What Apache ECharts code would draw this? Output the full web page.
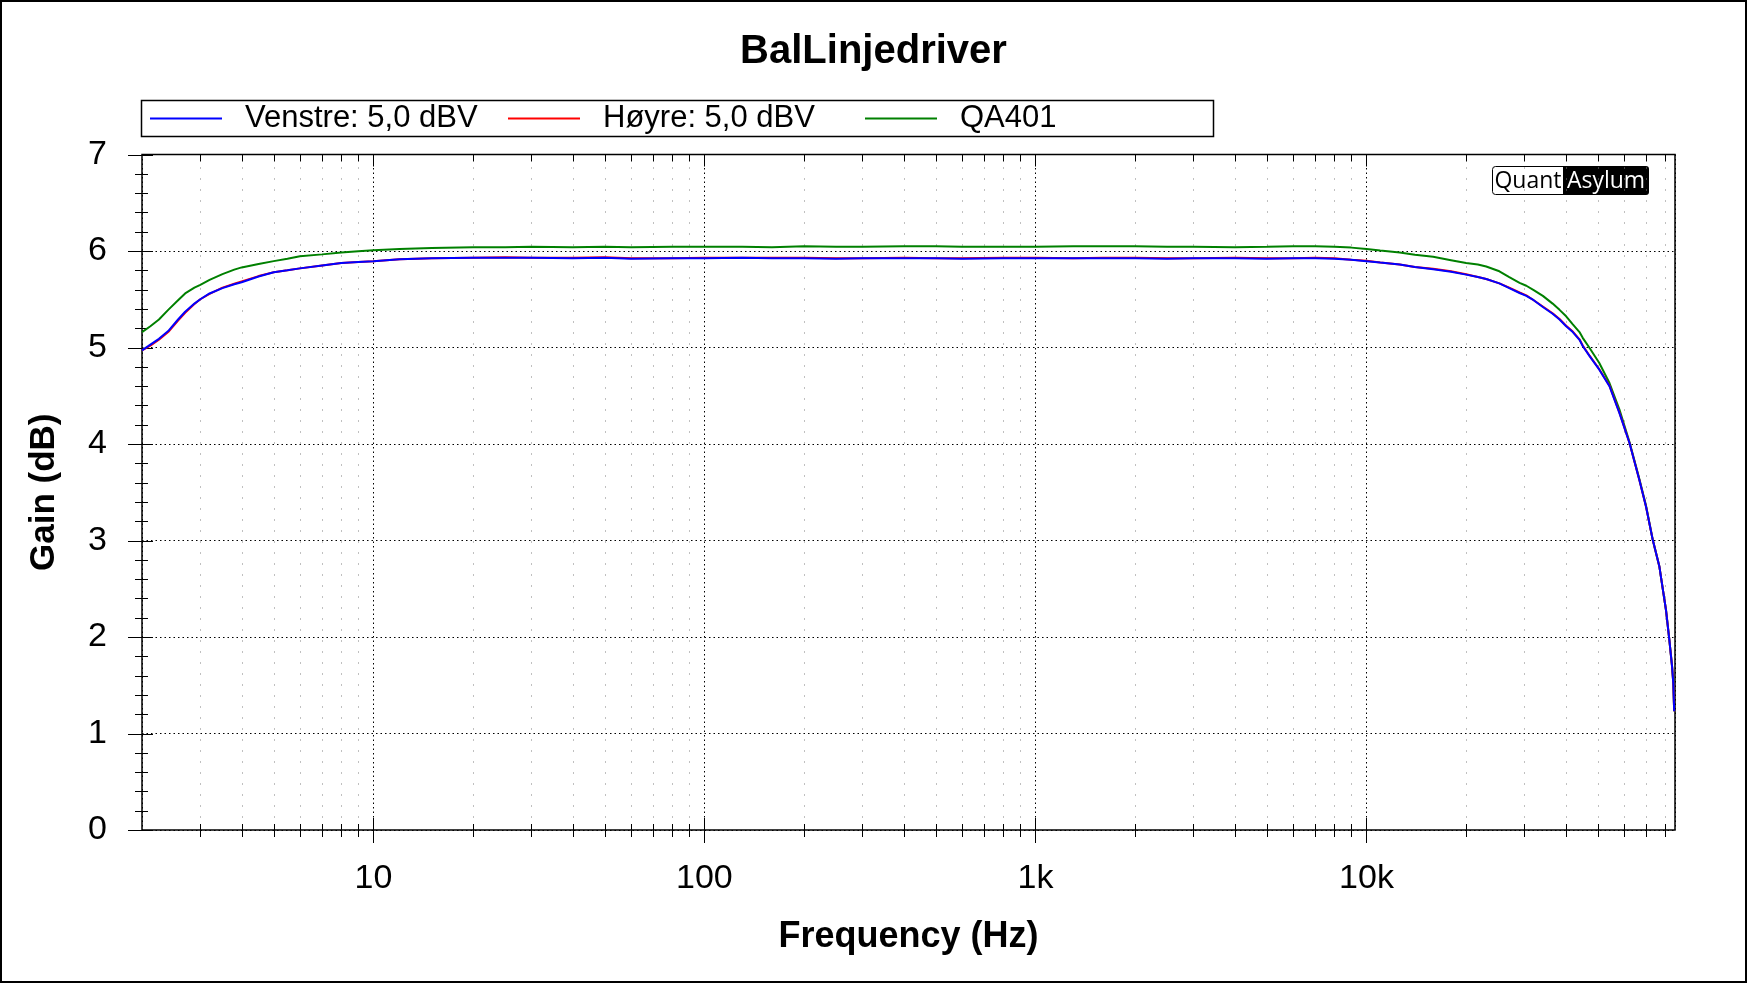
<!DOCTYPE html>
<html><head><meta charset="utf-8">
<script src="https://cdn.jsdelivr.net/npm/echarts@6/dist/echarts.min.js"></script>
<style>html,body{margin:0;padding:0;background:#fff}#c{width:1747px;height:983px}</style>
</head><body><div id="c"></div><script>
// ---- data ----
const freqHz = [2, 2.12, 2.25, 2.4, 2.57, 2.7, 2.88, 3.0, 3.2, 3.5,
  3.8, 4.0, 4.5, 5, 5.5, 6, 7, 8, 9, 10,
  12, 15, 20, 25, 30, 40, 50, 60, 80, 100,
  130, 160, 200, 250, 300, 400, 500, 600, 800, 1000,
  1300, 1600, 2000, 2500, 3000, 4000, 5000, 6000, 7000, 8000,
  9000, 10000, 11000, 12600, 14000, 15900, 18000, 20000, 21700, 23000,
  25200, 27000, 29000, 30400, 32000, 34100, 36500, 38300, 40100, 42000,
  44000, 45000, 47200, 50500, 54200, 58100, 62300, 66700, 69900, 73200,
  76700, 80300, 82200, 83800, 84500, 85000];
const gainVenstre = [4.97, 5.03, 5.09, 5.17, 5.29, 5.37, 5.455, 5.50, 5.56, 5.615,
  5.655, 5.676, 5.735, 5.78, 5.80, 5.82, 5.85, 5.876, 5.886, 5.895,
  5.915, 5.925, 5.93, 5.93, 5.93, 5.925, 5.93, 5.92, 5.925, 5.925,
  5.93, 5.925, 5.925, 5.92, 5.925, 5.925, 5.925, 5.92, 5.925, 5.925,
  5.925, 5.925, 5.925, 5.92, 5.925, 5.925, 5.92, 5.925, 5.925, 5.92,
  5.91, 5.895, 5.88, 5.86, 5.835, 5.81, 5.785, 5.755, 5.73, 5.71,
  5.665, 5.615, 5.565, 5.535, 5.49, 5.42, 5.35, 5.29, 5.22, 5.16,
  5.08, 5.015, 4.91, 4.77, 4.60, 4.32, 4.01, 3.63, 3.35, 3.01,
  2.73, 2.28, 1.97, 1.69, 1.52, 1.23];
const gainHoyre = [4.97, 5.02, 5.08, 5.16, 5.28, 5.36, 5.45, 5.50, 5.555, 5.62,
  5.66, 5.685, 5.74, 5.78, 5.80, 5.82, 5.85, 5.875, 5.885, 5.895,
  5.915, 5.925, 5.93, 5.935, 5.93, 5.93, 5.935, 5.925, 5.925, 5.93,
  5.93, 5.93, 5.93, 5.925, 5.925, 5.93, 5.925, 5.925, 5.93, 5.93,
  5.925, 5.93, 5.93, 5.925, 5.925, 5.93, 5.925, 5.925, 5.93, 5.925,
  5.91, 5.90, 5.88, 5.86, 5.835, 5.815, 5.79, 5.76, 5.73, 5.71,
  5.665, 5.62, 5.57, 5.54, 5.49, 5.425, 5.355, 5.295, 5.225, 5.165,
  5.085, 5.02, 4.915, 4.775, 4.605, 4.325, 4.01, 3.63, 3.35, 3.01,
  2.73, 2.28, 1.97, 1.69, 1.52, 1.23];
const gainQA401 = [5.16, 5.22, 5.29, 5.39, 5.49, 5.56, 5.62, 5.65, 5.70, 5.76,
  5.807, 5.83, 5.865, 5.895, 5.92, 5.945, 5.965, 5.985, 5.998, 6.008,
  6.02, 6.03, 6.04, 6.04, 6.045, 6.04, 6.045, 6.04, 6.045, 6.045,
  6.045, 6.04, 6.05, 6.045, 6.045, 6.05, 6.05, 6.045, 6.045, 6.045,
  6.05, 6.05, 6.05, 6.045, 6.045, 6.04, 6.045, 6.05, 6.05, 6.045,
  6.035, 6.02, 6.005, 5.985, 5.96, 5.94, 5.905, 5.875, 5.86, 5.84,
  5.79, 5.73, 5.67, 5.64, 5.595, 5.535, 5.455, 5.39, 5.323, 5.24,
  5.16, 5.10, 4.995, 4.84, 4.632, 4.356, 4.02, 3.64, 3.36, 3.01,
  2.73, 2.28, 1.97, 1.69, 1.52, 1.23];

const seriesNames = ['Venstre: 5,0 dBV', 'Høyre: 5,0 dBV', 'QA401'];
const xMajorTicks = [10, 100, 1000, 10000];
const xMinorTicks = [3, 4, 5, 6, 7, 8, 9,
  20, 30, 40, 50, 60, 70, 80, 90,
  200, 300, 400, 500, 600, 700, 800, 900,
  2000, 3000, 4000, 5000, 6000, 7000, 8000, 9000,
  20000, 30000, 40000, 50000, 60000, 70000, 80000];
const yMajorTicks = [0, 1, 2, 3, 4, 5, 6, 7];
const yMinorTicks = [];
for (let i = 1; i < 35; i++) if (i % 5 !== 0) yMinorTicks.push(i / 5);

const X_MIN = 2, X_MAX = 85500, Y_MIN = 0, Y_MAX = 7;

// ---- build ----
const pairs = g => freqHz.map((f, i) => [f, g[i]]);
const tickData = [];
xMinorTicks.forEach(v => tickData.push([v, Y_MIN, 0]));
xMajorTicks.forEach(v => tickData.push([v, Y_MIN, 1]));
yMinorTicks.forEach(v => tickData.push([X_MIN, v, 2]));
yMajorTicks.forEach(v => tickData.push([X_MIN, v, 3]));

function renderTick(params, api) {
  const kind = api.value(2);
  const bl = api.coord([X_MIN, Y_MIN]);
  const tr = api.coord([X_MAX, Y_MAX]);
  const s = { stroke: '#000', lineWidth: 1 };
  const ch = [];
  if (kind <= 1) {
    const x = Math.round(api.coord([api.value(0), Y_MIN])[0]) + 0.5;
    const major = kind === 1;
    if (!major) ch.push({ type: 'line', shape: { x1: x, y1: tr[1] + 2, x2: x, y2: bl[1] },
      style: { stroke: '#808080', lineWidth: 1, lineDash: [1, 10] } });
    ch.push({ type: 'line', shape: { x1: x, y1: bl[1] - (major ? 12 : 6), x2: x, y2: bl[1] + (major ? 13 : 7) }, style: s });
    ch.push({ type: 'line', shape: { x1: x, y1: tr[1], x2: x, y2: tr[1] + (major ? 12 : 7) }, style: s });
  } else {
    const p = api.coord([X_MIN, api.value(1)]);
    const y = Math.round(p[1]) + 0.5;
    const major = kind === 3;
    ch.push({ type: 'line', shape: { x1: p[0] - (major ? 14 : 7), y1: y, x2: p[0] + (major ? 11 : 6), y2: y }, style: s });
  }
  return { type: 'group', children: ch };
}

const FONT = 'Liberation Sans, Arial, sans-serif';
const chart = echarts.init(document.getElementById('c'), null, { renderer: 'canvas' });
const legendBase = {
  orient: 'horizontal', top: 103, padding: 0, itemWidth: 72, itemHeight: 2, icon: 'rect',
  selectedMode: false,
  textStyle: { fontFamily: FONT, fontSize: 31, color: '#000', padding: [0, 0, 0, 18] }
};
chart.setOption({
  backgroundColor: '#fff',
  animation: false,
  title: {
    text: 'BalLinjedriver', left: 'center', top: 32, padding: 0,
    textStyle: { fontFamily: FONT, fontSize: 40, fontWeight: 'bold', color: '#000' }
  },
  legend: [
    Object.assign({}, legendBase, { left: 150, data: [seriesNames[0]] }),
    Object.assign({}, legendBase, { left: 508, data: [seriesNames[1]] }),
    Object.assign({}, legendBase, { left: 865, data: [seriesNames[2]] })
  ],
  grid: {
    left: 142, right: 72, top: 154.5, bottom: 153, containLabel: false,
    show: true, borderColor: '#000', borderWidth: 1.5, backgroundColor: 'transparent'
  },
  xAxis: {
    type: 'log', logBase: 10, min: X_MIN, max: X_MAX,
    name: 'Frequency (Hz)', nameLocation: 'middle', nameGap: 89,
    nameTextStyle: { fontFamily: FONT, fontSize: 36, fontWeight: 'bold', color: '#000' },
    axisLine: { show: false }, axisTick: { show: false },
    axisLabel: {
      margin: 32, fontFamily: FONT, fontSize: 34, color: '#000',
      showMinLabel: false, showMaxLabel: false,
      formatter: v => { const r = Math.round(v); return r >= 1000 ? (r / 1000) + 'k' : String(r); }
    },
    splitLine: { show: true, lineStyle: { color: '#000', width: 1, type: [1.5, 3] } },
    minorTick: { show: false }, minorSplitLine: { show: false }
  },
  yAxis: {
    type: 'value', min: Y_MIN, max: Y_MAX, interval: 1,
    name: 'Gain (dB)', nameLocation: 'middle', nameGap: 80, nameRotate: 90,
    nameTextStyle: { fontFamily: FONT, fontSize: 35, fontWeight: 'bold', color: '#000' },
    axisLine: { show: false }, axisTick: { show: false },
    axisLabel: { margin: 35, fontFamily: FONT, fontSize: 34, color: '#000' },
    splitLine: { show: true, lineStyle: { color: '#000', width: 1, type: [1.5, 3] } }
  },
  graphic: [
    { type: 'rect', shape: { x: 1, y: 1, width: 1745, height: 981 }, style: { fill: 'none', stroke: '#000', lineWidth: 2 }, silent: true },
    { type: 'rect', shape: { x: 141.5, y: 100.5, width: 1072, height: 36 }, style: { fill: 'none', stroke: '#000', lineWidth: 1.5 }, silent: true },
    {
      type: 'group', x: 1492, y: 166, silent: true, z: 10,
      children: [
        { type: 'rect', shape: { x: 0.5, y: 0.5, width: 71, height: 28, r: [3, 0, 0, 3] }, style: { fill: '#fff', stroke: '#000', lineWidth: 1 } },
        { type: 'rect', shape: { x: 71, y: 0, width: 86, height: 29, r: [0, 3, 3, 0] }, style: { fill: '#000' } },
        { type: 'text', x: 36, y: 15, style: { text: 'Quant', fill: '#000', font: '23px "Open Sans", "Noto Sans", sans-serif', align: 'center', verticalAlign: 'middle' } },
        { type: 'text', x: 114, y: 15, style: { text: 'Asylum', fill: '#fff', font: '23px "Open Sans", "Noto Sans", sans-serif', align: 'center', verticalAlign: 'middle' } }
      ]
    }
  ],
  series: [
    { name: seriesNames[0], type: 'line', data: pairs(gainVenstre), showSymbol: false, symbol: 'none',
      lineStyle: { color: '#0000ff', width: 2 }, itemStyle: { color: '#0000ff' }, z: 5, silent: true },
    { name: seriesNames[1], type: 'line', data: pairs(gainHoyre), showSymbol: false, symbol: 'none',
      lineStyle: { color: '#ff0000', width: 2 }, itemStyle: { color: '#ff0000' }, z: 4, silent: true },
    { name: seriesNames[2], type: 'line', data: pairs(gainQA401), showSymbol: false, symbol: 'none',
      lineStyle: { color: '#008000', width: 2 }, itemStyle: { color: '#008000' }, z: 3, silent: true },
    { name: 'ticks', type: 'custom', data: tickData, renderItem: renderTick, clip: false, silent: true, z: 1,
      encode: { x: 0, y: 1 } }
  ]
});
</script></body></html>
